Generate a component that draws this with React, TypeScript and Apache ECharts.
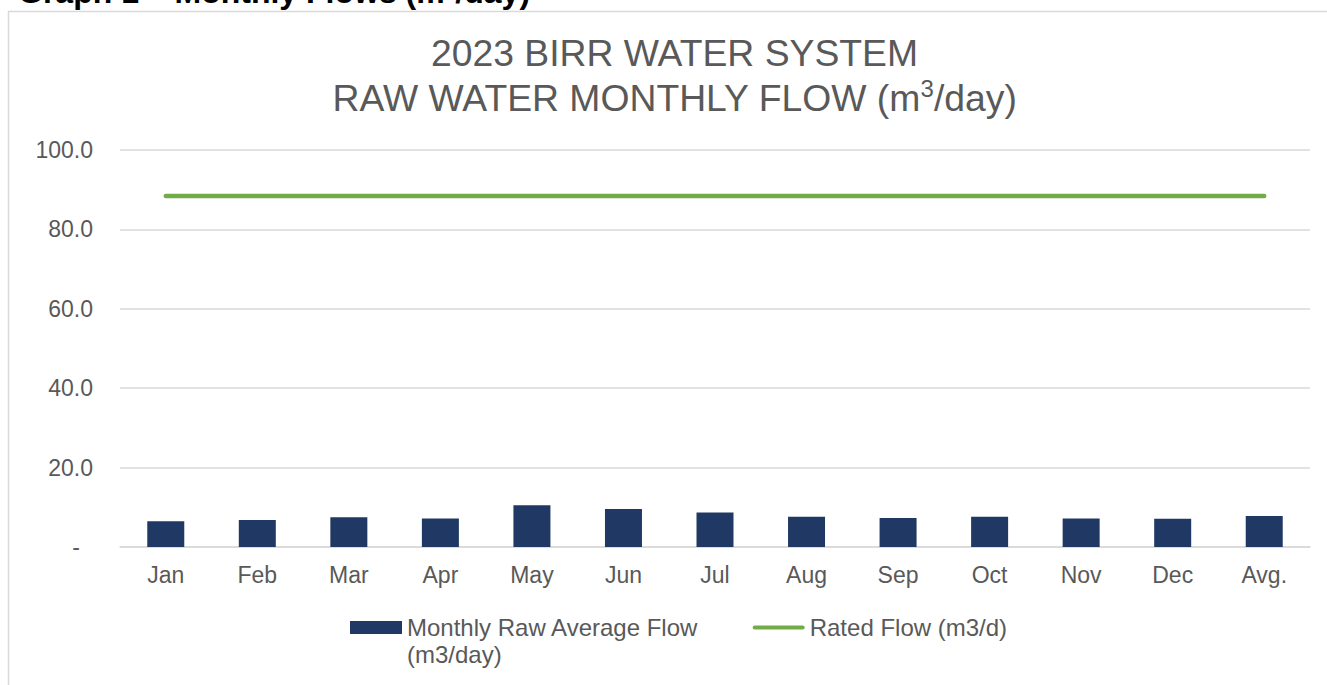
import React, { useEffect, useRef } from 'react';
import * as echarts from 'echarts';

const categories = ['Jan', 'Feb', 'Mar', 'Apr', 'May', 'Jun', 'Jul', 'Aug', 'Sep', 'Oct', 'Nov', 'Dec', 'Avg.'];
const monthlyRawFlow = [6.5, 6.8, 7.5, 7.2, 10.5, 9.6, 8.7, 7.6, 7.3, 7.6, 7.2, 7.1, 7.8];
const ratedFlow = [88.4, 88.4, 88.4, 88.4, 88.4, 88.4, 88.4, 88.4, 88.4, 88.4, 88.4, 88.4, 88.4];
const yMin = 0;
const yMax = 100;
const yInterval = 20;

const FONT = 'Arial, "Liberation Sans", sans-serif';
const GREY = '#595959';
const BAR_NAME = 'Monthly Raw Average Flow\n(m3/day)';
const LINE_NAME = 'Rated Flow (m3/d)';

export default function App() {
  const ref = useRef<HTMLDivElement>(null);
  useEffect(() => {
    if (!ref.current) return;
    const chart = echarts.init(ref.current, null, { renderer: 'svg' });
    chart.setOption({
      animation: false,
      backgroundColor: '#ffffff',
      textStyle: { fontFamily: FONT },
      title: {
        left: 669.5,
        top: 25,
        textAlign: 'center',
        textVerticalAlign: 'top',
        text: '{a|2023 BIRR WATER SYSTEM}\n{a|RAW WATER MONTHLY FLOW (m}{s|3}{a|/day)}',
        textStyle: {
          fontWeight: 'normal',
          rich: {
            a: { fontSize: 37.3, fontWeight: 'normal', color: GREY, fontFamily: FONT, lineHeight: 45 },
            s: { fontSize: 24, fontWeight: 'normal', color: GREY, fontFamily: FONT, lineHeight: 24, padding: [0, 0, 18, 0] },
          },
        },
      },
      graphic: [
        {
          type: 'rect',
          silent: true,
          z: -1,
          shape: { x: 8.5, y: 11.5, width: 1400, height: 700 },
          style: { fill: 'none', stroke: '#d9d9d9', lineWidth: 1.5 },
        },
        {
          type: 'text',
          left: 18,
          top: -24,
          style: {
            text: 'Graph 1 – Monthly Flows (m³/day)',
            font: 'bold 32px ' + FONT,
            fill: '#000000',
          },
        },
      ],
      legend: {
        left: 350,
        top: 587,
        padding: 0,
        itemWidth: 52,
        itemHeight: 13,
        itemGap: 54,
        itemStyle: { borderWidth: 0 },
        textStyle: { fontSize: 24, color: GREY, fontFamily: FONT, lineHeight: 27 },
        formatter: (name: string) => (name === BAR_NAME ? '\n' + name : name),
        data: [
          { name: BAR_NAME, icon: 'rect' },
          { name: LINE_NAME, icon: 'path://M2,0 L50,0 A2,2 0 0 1 50,4 L2,4 A2,2 0 0 1 2,0 Z' },
        ],
      },
      grid: { left: 120, right: 17, top: 150, bottom: 138, containLabel: false },
      xAxis: {
        type: 'category',
        data: categories,
        boundaryGap: true,
        axisLine: { show: true, lineStyle: { color: '#d9d9d9', width: 1.5 } },
        axisTick: { show: false },
        axisLabel: { color: GREY, fontSize: 23, fontFamily: FONT, margin: 16 },
      },
      yAxis: {
        type: 'value',
        min: yMin,
        max: yMax,
        interval: yInterval,
        axisLine: { show: false },
        axisTick: { show: false },
        splitLine: { lineStyle: { color: '#d9d9d9', width: 1.5 } },
        axisLabel: {
          color: GREY,
          fontSize: 23,
          fontFamily: FONT,
          margin: 27,
          formatter: (v: number) => (v === 0 ? '{d|-}' : v.toFixed(1)),
          rich: { d: { fontSize: 23, color: GREY, fontFamily: FONT, padding: [0, 13, 0, 0] } },
        },
      },
      series: [
        {
          name: BAR_NAME,
          type: 'bar',
          data: monthlyRawFlow,
          barWidth: 37,
          itemStyle: { color: '#203864' },
        },
        {
          name: LINE_NAME,
          type: 'line',
          data: ratedFlow,
          symbol: 'none',
          lineStyle: { color: '#70AD47', width: 4.5, cap: 'round' },
          itemStyle: { color: '#70AD47' },
        },
      ],
    });
    return () => chart.dispose();
  }, []);
  return (
    <div
      ref={ref}
      style={{ position: 'fixed', left: 0, top: 0, width: 1327, height: 685 }}
    />
  );
}
